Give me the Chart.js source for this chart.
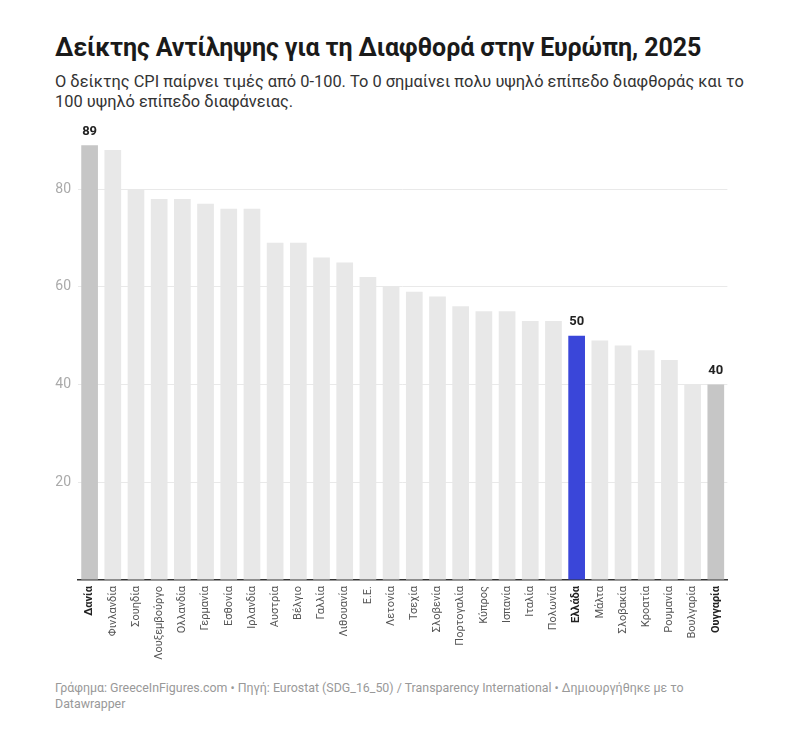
<!DOCTYPE html>
<html>
<head>
<meta charset="utf-8">
<script src="https://cdn.jsdelivr.net/npm/chart.js@4"></script>
<style>
  body { margin: 0; background: #fff; font-family: Roboto, "Noto Sans", sans-serif; }
  #wrap { position: relative; width: 807px; height: 737px; }
  h1 { position: absolute; left: 55px; top: 33px; margin: 0; font-size: 25px; font-weight: 700; color: #1a1a1a; letter-spacing: -0.1px; }
  .sub { position: absolute; left: 55px; top: 72px; width: 700px; margin: 0; font-size: 16.4px; line-height: 20px; color: #333; }
  .foot { position: absolute; left: 55px; top: 680px; width: 700px; margin: 0; font-size: 12.4px; line-height: 16px; color: #999; }
  #box { position: absolute; left: 40px; top: 118px; width: 695px; height: 552px; }
</style>
</head>
<body>
<div id="wrap">
  <h1>Δείκτης Αντίληψης για τη Διαφθορά στην Ευρώπη, 2025</h1>
  <p class="sub">Ο δείκτης CPI παίρνει τιμές από 0-100. Το 0 σημαίνει πολυ υψηλό επίπεδο διαφθοράς και το 100 υψηλό επίπεδο διαφάνειας.</p>
  <div id="box"><canvas id="c"></canvas></div>
  <p class="foot">Γράφημα: GreeceInFigures.com • Πηγή: Eurostat (SDG_16_50) / Transparency International • Δημιουργήθηκε με το Datawrapper</p>
</div>
<script>
// --- data ---
const countries = ["Δανία", "Φινλανδία", "Σουηδία", "Λουξεμβούργο", "Ολλανδία", "Γερμανία", "Εσθονία",
  "Ιρλανδία", "Αυστρία", "Βέλγιο", "Γαλλία", "Λιθουανία", "Ε.Ε.", "Λετονία", "Τσεχία", "Σλοβενία",
  "Πορτογαλία", "Κύπρος", "Ισπανία", "Ιταλία", "Πολωνία", "Ελλάδα", "Μάλτα", "Σλοβακία", "Κροατία",
  "Ρουμανία", "Βουλγαρία", "Ουγγαρία"];
const cpiScores = [89, 88, 80, 78, 78, 77, 76, 76, 69, 69, 66, 65, 62, 60, 59, 58, 56, 55, 55, 53, 53, 50, 49, 48, 47, 45, 40, 40];
const yTicks = [0, 20, 40, 60, 80];
const labelled = ["Δανία", "Ελλάδα", "Ουγγαρία"];
const focus = "Ελλάδα";

function barColor(name) {
  if (name === focus) return "#3a46d9";
  if (labelled.includes(name)) return "#c6c6c6";
  return "#e8e8e8";
}

// τιμές πάνω από τις επιλεγμένες μπάρες
const valueLabels = {
  id: "valueLabels",
  afterDatasetsDraw(chart) {
    const ctx = chart.ctx;
    const meta = chart.getDatasetMeta(0);
    ctx.save();
    ctx.font = "bold 13px Roboto";
    ctx.fillStyle = "#222";
    ctx.textAlign = "center";
    ctx.textBaseline = "bottom";
    meta.data.forEach((bar, i) => {
      if (!labelled.includes(countries[i])) return;
      ctx.fillText(String(cpiScores[i]), bar.x, bar.y - 7);
    });
    ctx.restore();
  }
};

new Chart(document.getElementById("c"), {
  type: "bar",
  data: {
    labels: countries,
    datasets: [{
      data: cpiScores,
      backgroundColor: countries.map(barColor),
      barPercentage: 0.72,
      categoryPercentage: 1
    }]
  },
  options: {
    responsive: true,
    maintainAspectRatio: false,
    animation: false,
    layout: { padding: 0 },
    plugins: { legend: { display: false }, tooltip: { enabled: false } },
    scales: {
      x: {
        offset: true,
        grid: { display: false, drawTicks: false },
        border: { display: true, color: "#333", width: 1.5 },
        afterFit: s => { s.height = 90; },
        ticks: {
          autoSkip: false,
          minRotation: 90,
          maxRotation: 90,
          padding: 6,
          color: c => labelled.includes(countries[c.index]) ? "#222" : "#555",
          font: c => ({ family: "Roboto", size: 11, weight: labelled.includes(countries[c.index]) ? "bold" : "normal" })
        }
      },
      y: {
        min: 0,
        max: 91.4,
        afterFit: s => { s.width = 38; },
        afterBuildTicks: s => { s.ticks = yTicks.map(v => ({ value: v })); },
        border: { display: false },
        grid: { color: c => c.tick.value === 0 ? "rgba(0,0,0,0)" : "#e9e9e9", drawTicks: false },
        ticks: {
          padding: 7,
          color: "#aaa",
          font: { family: "Roboto", size: 14 },
          callback: v => v === 0 ? "" : v
        }
      }
    }
  },
  plugins: [valueLabels]
});
</script>
</body>
</html>
